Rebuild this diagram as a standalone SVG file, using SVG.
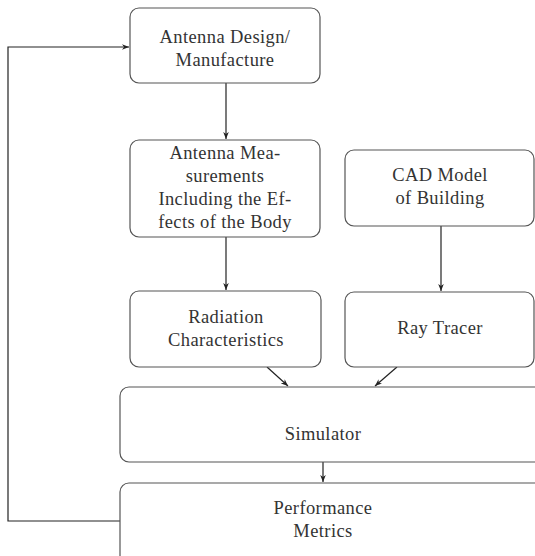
<svg xmlns="http://www.w3.org/2000/svg" width="535" height="556" viewBox="0 0 535 556">
<defs>
<marker id="ah" viewBox="0 0 10 10" refX="10" refY="5" markerWidth="7" markerHeight="7" orient="auto" markerUnits="userSpaceOnUse">
<path d="M0,1 L10,5 L0,9 L3,5 Z" fill="#222"/>
</marker>
</defs>
<style>
.box{fill:#fff;stroke:#555;stroke-width:1.2}
.t{font-family:"Liberation Serif","Times New Roman",serif;font-size:18.5px;letter-spacing:0.4px;fill:#333;text-anchor:middle}
.c{fill:none;stroke:#222;stroke-width:1.2}
</style>
<rect width="535" height="556" fill="#fff"/>
<g id="connectors">
<line class="c" x1="226" y1="83" x2="226" y2="139" marker-end="url(#ah)"/>
<line class="c" x1="226" y1="237" x2="226" y2="290" marker-end="url(#ah)"/>
<line class="c" x1="441" y1="226" x2="441" y2="291" marker-end="url(#ah)"/>
<line class="c" x1="267" y1="367" x2="288" y2="386" marker-end="url(#ah)"/>
<line class="c" x1="397" y1="367" x2="375" y2="386" marker-end="url(#ah)"/>
<line class="c" x1="323" y1="462" x2="323" y2="482" marker-end="url(#ah)"/>
<polyline class="c" points="120,521 8,521 8,47 129,47" marker-end="url(#ah)"/>
</g>
<g id="n1"><rect class="box" x="130" y="8" width="190" height="75" rx="9"/>
<text class="t" x="225" y="43">Antenna Design/</text><text class="t" x="225" y="66">Manufacture</text></g>
<g id="n2"><rect class="box" x="130" y="140" width="190" height="97" rx="9"/>
<text class="t" x="225" y="159">Antenna Mea-</text><text class="t" x="225" y="182">surements</text><text class="t" x="225" y="205">Including the Ef-</text><text class="t" x="225" y="228">fects of the Body</text></g>
<g id="n3"><rect class="box" x="345" y="150" width="189" height="76" rx="9"/>
<text class="t" x="440" y="181">CAD Model</text><text class="t" x="440" y="204">of Building</text></g>
<g id="n4"><rect class="box" x="130" y="291" width="191" height="76" rx="9"/>
<text class="t" x="226" y="323">Radiation</text><text class="t" x="226" y="346">Characteristics</text></g>
<g id="n5"><rect class="box" x="345" y="292" width="189" height="75" rx="9"/>
<text class="t" x="440" y="334">Ray Tracer</text></g>
<g id="n6"><rect class="box" x="120" y="387" width="425" height="75" rx="9"/>
<text class="t" x="323" y="440">Simulator</text></g>
<g id="n7"><rect class="box" x="120" y="483" width="425" height="85" rx="9"/>
<text class="t" x="323" y="514">Performance</text><text class="t" x="323" y="537">Metrics</text></g>
</svg>
